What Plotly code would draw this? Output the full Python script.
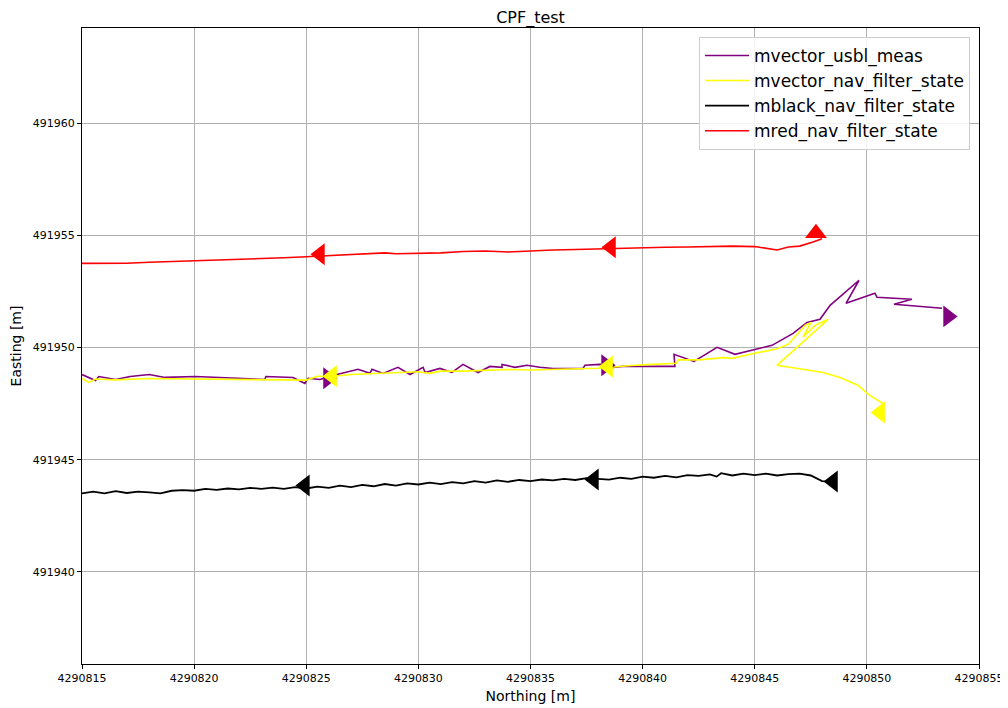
import plotly.graph_objects as go

X0 = 4290815.0
Y0 = 491900.0

# ---- data (offsets from X0 / Y0) ----
purple_dx = [0.0, 0.6, 0.75, 1.5, 2.15, 3.0, 3.7, 5.05, 8.15, 8.2, 9.41, 9.94, 10.08, 10.61, 11.19,
             12.31, 12.84, 12.93, 13.42, 14.09, 14.63, 15.21, 15.30, 15.96, 16.50, 16.99, 17.66,
             18.19, 18.73, 18.73, 19.31, 19.84, 20.42, 21.00, 22.34, 22.43, 23.10, 23.68, 24.12,
             26.44, 26.40, 27.29, 28.32, 29.12, 30.77, 31.71, 32.33, 32.91, 33.36, 34.65, 34.07,
             35.36, 35.45, 37.01, 36.21, 38.35]
purple_dy = [48.80, 48.53, 48.71, 48.58, 48.71, 48.80, 48.67, 48.71, 48.58, 48.71, 48.67, 48.40, 48.63,
             48.58, 48.76, 49.03, 48.85, 49.03, 48.85, 49.12, 48.80, 49.12, 48.89, 49.07, 48.89,
             49.25, 48.89, 49.16, 49.12, 49.25, 49.12, 49.21, 49.12, 49.07, 49.07, 49.21, 49.25,
             49.12, 49.16, 49.16, 49.70, 49.38, 50.01, 49.70, 50.10, 50.63, 51.12, 51.26, 51.88,
             53.00, 51.97, 52.42, 52.24, 52.15, 51.93, 51.75]

yellow_dx = [0.0, 0.3, 0.6, 1.5, 3.0, 5.0, 7.0, 9.0, 10.0, 10.5, 11.2, 12.0, 13.0, 14.0, 15.0, 15.5,
             16.0, 17.0, 18.0, 19.0, 20.0, 21.0, 22.0, 23.0, 23.6, 24.5, 25.5, 26.5, 26.6, 27.5,
             28.6, 29.0, 29.8, 31.0, 31.5, 32.24, 32.51, 32.15, 32.69, 33.27, 30.99, 31.57, 33.04,
             33.80, 34.60, 35.01, 35.27, 35.72]
yellow_dy = [48.63, 48.45, 48.60, 48.56, 48.62, 48.60, 48.60, 48.58, 48.55, 48.72, 48.72, 48.80, 48.85,
             48.88, 48.92, 48.85, 48.95, 48.95, 48.98, 49.02, 49.00, 49.02, 49.05, 49.08, 49.12,
             49.20, 49.25, 49.30, 49.45, 49.45, 49.55, 49.52, 49.70, 49.95, 50.15, 50.99, 51.12,
             50.46, 50.99, 51.26, 49.21, 49.12, 48.89, 48.67, 48.32, 47.96, 47.78, 47.51]

black_dx = [0.0, 0.5, 1.0, 1.5, 2.0, 2.5, 3.0, 3.5, 4.0, 4.5, 5.0, 5.5, 6.0, 6.5, 7.0, 7.5, 8.0, 8.5,
            9.0, 9.5, 10.0, 10.5, 11.0, 11.5, 12.0, 12.5, 13.0, 13.5, 14.0, 14.5, 15.0, 15.5, 16.0,
            16.5, 17.0, 17.5, 18.0, 18.5, 19.0, 19.5, 20.0, 20.5, 21.0, 21.5, 22.0, 22.5, 23.0,
            23.5, 24.0, 24.5, 25.0, 25.5, 26.0, 26.5, 27.0, 27.5, 28.0, 28.3, 28.5, 29.0, 29.5,
            30.0, 30.5, 31.0, 31.5, 32.0, 32.5, 33.0, 33.5]
black_dy = [43.50, 43.58, 43.50, 43.60, 43.52, 43.58, 43.55, 43.50, 43.62, 43.65, 43.62, 43.70, 43.66,
            43.72, 43.68, 43.75, 43.70, 43.76, 43.70, 43.78, 43.72, 43.80, 43.75, 43.85, 43.78,
            43.88, 43.82, 43.92, 43.85, 43.95, 43.90, 43.98, 43.92, 44.00, 43.95, 44.05, 43.98,
            44.08, 44.02, 44.10, 44.05, 44.12, 44.08, 44.15, 44.10, 44.18, 44.15, 44.12, 44.20,
            44.15, 44.25, 44.20, 44.28, 44.22, 44.32, 44.28, 44.35, 44.25, 44.40, 44.30, 44.38,
            44.32, 44.38, 44.30, 44.36, 44.38, 44.30, 44.05, 44.03]

red_dx = [0.0, 1.0, 2.0, 3.0, 4.0, 5.0, 6.0, 7.0, 8.0, 9.0, 10.0, 11.0, 12.0, 13.0, 13.5, 14.0, 15.0,
          16.0, 17.0, 18.0, 19.0, 20.0, 21.0, 22.0, 23.0, 24.0, 25.0, 26.0, 27.0, 28.0, 29.0, 30.0,
          30.5, 31.0, 31.5, 32.0, 32.6, 33.0]
red_dy = [53.75, 53.74, 53.76, 53.80, 53.83, 53.88, 53.91, 53.95, 53.98, 54.00, 54.05, 54.10, 54.12,
          54.17, 54.22, 54.18, 54.20, 54.22, 54.28, 54.30, 54.26, 54.32, 54.35, 54.37, 54.40, 54.42,
          54.45, 54.47, 54.48, 54.50, 54.52, 54.50, 54.42, 54.35, 54.48, 54.52, 54.70, 54.85]

# direction arrows: (dx, dy, symbol)
purple_arrow_dx = [10.97, 23.37, 38.62]
purple_arrow_dy = [48.63, 49.21, 51.39]
purple_arrow_sym = ["triangle-right", "triangle-right", "triangle-right"]
yellow_arrow_dx = [11.15, 23.46, 35.59]
yellow_arrow_dy = [48.72, 49.16, 47.11]
yellow_arrow_sym = ["triangle-left", "triangle-left", "triangle-left"]
black_arrow_dx = [9.94, 22.83, 33.49]
black_arrow_dy = [43.85, 44.12, 44.03]
black_arrow_sym = ["triangle-left", "triangle-left", "triangle-left"]
red_arrow_dx = [10.61, 23.59, 32.73]
red_arrow_dy = [54.16, 54.47, 55.09]
red_arrow_sym = ["triangle-left", "triangle-left", "triangle-up"]

x_ticks = [4290815, 4290820, 4290825, 4290830, 4290835, 4290840, 4290845, 4290850, 4290855]
y_ticks = [491940, 491945, 491950, 491955, 491960]

series = [
    ("mvector_usbl_meas", "purple", 1.6, purple_dx, purple_dy, purple_arrow_dx, purple_arrow_dy, purple_arrow_sym),
    ("mvector_nav_filter_state", "yellow", 1.6, yellow_dx, yellow_dy, yellow_arrow_dx, yellow_arrow_dy, yellow_arrow_sym),
    ("mblack_nav_filter_state", "black", 1.8, black_dx, black_dy, black_arrow_dx, black_arrow_dy, black_arrow_sym),
    ("mred_nav_filter_state", "red", 1.6, red_dx, red_dy, red_arrow_dx, red_arrow_dy, red_arrow_sym),
]

fig = go.Figure()
for name, color, lw, dx, dy, adx, ady, asym in series:
    fig.add_trace(go.Scatter(
        x=[X0 + v for v in dx], y=[Y0 + v for v in dy], mode="lines", name=name,
        line=dict(color=color, width=lw)))
for name, color, lw, dx, dy, adx, ady, asym in series:
    fig.add_trace(go.Scatter(
        x=[X0 + v for v in adx], y=[Y0 + v for v in ady], mode="markers", showlegend=False,
        marker=dict(symbol=asym, size=19, color=color, line=dict(width=0))))

font = "DejaVu Sans, sans-serif"
axis_common = dict(showline=True, linecolor="black", linewidth=1, mirror=True,
                   ticks="outside", ticklen=4, tickcolor="black", automargin=False,
                   showgrid=True, gridcolor="#b0b0b0", gridwidth=1, zeroline=False,
                   tickfont=dict(family=font, size=11, color="black"))

fig.update_layout(
    width=1000, height=700,
    margin=dict(l=74, r=29, t=20, b=44),
    paper_bgcolor="white", plot_bgcolor="white",
    title=dict(text="CPF_test", xref="paper", x=0.5, xanchor="center",
               yref="container", y=0.9868, yanchor="middle",
               font=dict(family=font, size=16, color="black")),
    xaxis=dict(range=[4290815, 4290855], tickvals=x_ticks, ticktext=[str(v) for v in x_ticks],
               title=dict(text="Northing [m]", font=dict(family=font, size=14, color="black"), standoff=6),
               **axis_common),
    yaxis=dict(range=[491935.9, 491964.24], tickvals=y_ticks, ticktext=[str(v) for v in y_ticks],
               title=dict(text="Easting [m]", font=dict(family=font, size=14, color="black"), standoff=8),
               **axis_common),
    legend=dict(x=0.99, xanchor="right", y=0.986, yanchor="top", itemwidth=44,
                bgcolor="rgba(255,255,255,0.85)", bordercolor="#cccccc", borderwidth=1,
                font=dict(family=font, size=17, color="black"), tracegroupgap=0),
    showlegend=True,
)

fig.write_html("out.html")
